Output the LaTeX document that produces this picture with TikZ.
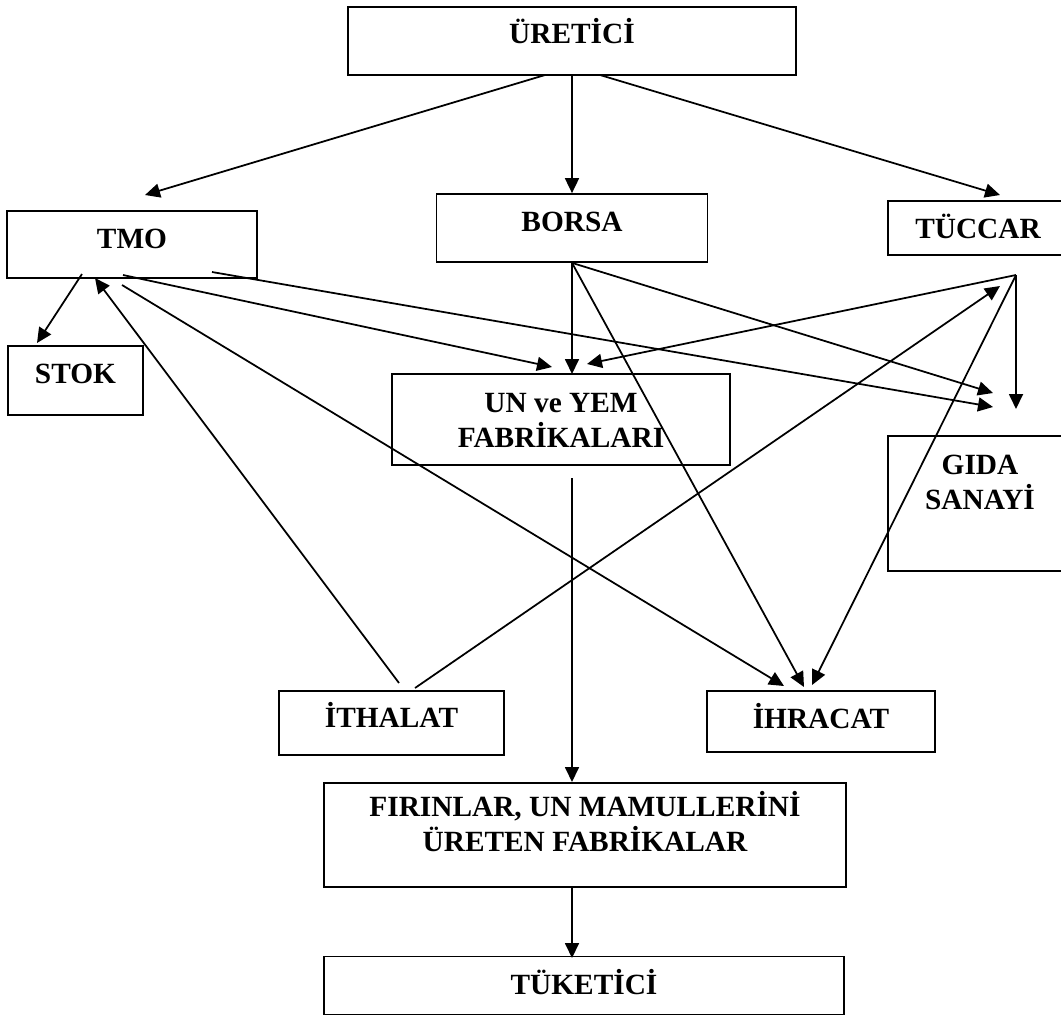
\documentclass[tikz,border=0pt]{standalone}
\usepackage{fontspec}
\setmainfont{Liberation Serif}
\usetikzlibrary{arrows.meta}

\begin{document}
\begin{tikzpicture}[x=0.02cm,y=-0.02cm,>={Triangle[length=0.3cm,width=0.28cm]},
  box/.style={draw,line width=1pt,inner sep=0pt,font=\fontsize{16.7}{19}\selectfont\bfseries},
  link/.style={->,line width=1pt}]

\useasboundingbox (0,0) rectangle (1061,1015);

% define the boxes
  \node[box,minimum width=8.96cm,text height=0.732cm,text depth=0.628cm] (uretici) at (572,41)
{ÜRETİCİ};
  \node[box,minimum width=5.42cm,text height=0.752cm,text depth=0.608cm] (borsa) at (572,228)
{BORSA};
  \node[box,minimum width=5cm,text height=0.74cm,text depth=0.6cm] (tmo) at (132,244.5)
{TMO};
  \node[box,minimum width=3.6cm,text height=0.74cm,text depth=0.34cm] (tuccar) at (978,228)
{TÜCCAR};
  \node[box,minimum width=2.7cm,text height=0.752cm,text depth=0.628cm] (stok) at (75.5,380.5)
{STOK};
  \node[box,minimum width=6.76cm,text height=0.772cm,text depth=1.048cm] (unyem) at (561,419.5)
{\begin{tabular}[t]{@{}c@{}}UN ve YEM\\FABRİKALARI\end{tabular}};
  \node[box,minimum width=3.68cm,text height=0.76cm,text depth=1.94cm] (gida) at (980,503.5)
{\begin{tabular}[t]{@{}c@{}}GIDA\\SANAYİ\end{tabular}};
  \node[box,minimum width=4.5cm,text height=0.732cm,text depth=0.548cm] (ithalat) at (391.5,723)
{İTHALAT};
  \node[box,minimum width=4.56cm,text height=0.74cm,text depth=0.48cm] (ihracat) at (821,721.5)
{İHRACAT};
  \node[box,minimum width=10.44cm,text height=0.672cm,text depth=1.408cm] (firin) at (585,835)
{\begin{tabular}[t]{@{}c@{}}FIRINLAR, UN MAMULLERİNİ\\ÜRETEN FABRİKALAR\end{tabular}};
  \node[box,minimum width=10.4cm,text height=0.752cm,text depth=0.408cm] (tuketici) at (584,985.5)
{TÜKETİCİ};

% define the free ends of the links
  \coordinate (ur-l) at (545,75);
  \coordinate (ur-r) at (600,75);
  \coordinate (tmo-in) at (145,195);
  \coordinate (tuc-in) at (1000,195);
  \coordinate (tmo-a) at (82,274);
  \coordinate (tmo-b) at (123,275);
  \coordinate (tmo-c) at (212,272);
  \coordinate (tmo-d) at (122,285);
  \coordinate (tmo-ret) at (95,278);
  \coordinate (stok-in) at (37,343);
  \coordinate (tuc-out) at (1016,275);
  \coordinate (tuc-ret) at (1000,286);
  \coordinate (un-l) at (552,367);
  \coordinate (un-m) at (572,374);
  \coordinate (un-r) at (587,364);
  \coordinate (un-out) at (572,478);
  \coordinate (gida-a) at (993,393);
  \coordinate (gida-b) at (993,407);
  \coordinate (gida-m) at (1016,409);
  \coordinate (ihr-a) at (784,686);
  \coordinate (ihr-b) at (804,687);
  \coordinate (ihr-c) at (812,685);
  \coordinate (ith-a) at (399,683);
  \coordinate (ith-b) at (415,688);
  \coordinate (fir-in) at (572,782);
  \coordinate (fir-out) at (572,888);
  \coordinate (tuk-in) at (572,958);

% define the links
  \path[link] (uretici.south) edge (borsa.north)
        (ur-l) edge (tmo-in)
        (ur-r) edge (tuc-in)
        (tmo-a) edge (stok-in)
        (tmo-b) edge (un-l)
        (tmo-c) edge (gida-b)
        (tmo-d) edge (ihr-a)
        (borsa.south) edge (un-m)
        (borsa.south) edge (gida-a)
        (borsa.south) edge (ihr-b)
        (tuc-out) edge (un-r)
                  edge (gida-m)
                  edge (ihr-c)
        (ith-a) edge (tmo-ret)
        (ith-b) edge (tuc-ret)
        (un-out) edge (fir-in)
        (fir-out) edge (tuk-in);

\end{tikzpicture}
\end{document}
